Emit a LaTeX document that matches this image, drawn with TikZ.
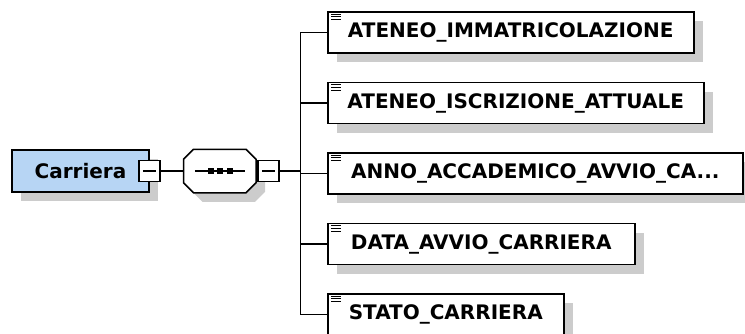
\documentclass[tikz,border=0pt]{standalone}
\usepackage{fontspec}
\setmainfont{DejaVu Sans}
\usetikzlibrary{positioning,shadows}
\definecolor{rootblue}{RGB}{183,213,244}

\begin{document}
\begin{tikzpicture}[
    x=1pt, y=-1pt,
    line width=1.5pt,
    boxshadow/.style={
        drop shadow={shadow xshift=9pt, shadow yshift=-9pt, fill=black!20, opacity=1}
    },
    rootbox/.style={
        rectangle, draw, fill=rootblue, minimum width=137pt, minimum height=42pt,
        font=\fontsize{20}{22}\selectfont\bfseries, boxshadow
    },
    elem/.style={
        rectangle, draw, fill=white, minimum height=41pt, anchor=west,
        font=\fontsize{20}{22}\selectfont\bfseries, boxshadow
    },
    toggle/.style={rectangle, draw, fill=white, minimum size=21pt, inner sep=0pt},
    seqbox/.style={rectangle, minimum width=71pt, minimum height=42pt, inner sep=0pt}
]
\useasboundingbox (0,0) rectangle (745,333);

% Nodes
\node[rootbox] (carriera) at (80.5,171) {Carriera};
\node[toggle] (m1) at ([xshift=-0.5pt]carriera.east) {};
\node[seqbox, right=23pt of m1] (seq) {};
\node[toggle, right=1pt of seq] (m2) {};

\node[elem, minimum width=366pt] (b1) at (327,32.5) {ATENEO\_IMMATRICOLAZIONE};
\node[elem, minimum width=376pt, below=28pt of b1.south west, anchor=north west] (b2) {ATENEO\_ISCRIZIONE\_ATTUALE};
\node[elem, minimum width=415pt, below=28pt of b2.south west, anchor=north west] (b3) {ANNO\_ACCADEMICO\_AVVIO\_CA...};
\node[elem, minimum width=307pt, below=28pt of b3.south west, anchor=north west] (b4) {DATA\_AVVIO\_CARRIERA};
\node[elem, minimum width=236pt, below=28pt of b4.south west, anchor=north west] (b5) {STATO\_CARRIERA};

% Octagon round the sequence node
\path[draw, fill=white, boxshadow]
    ([xshift=10pt]seq.north west) -- ([xshift=-10pt]seq.north east)
    -- ([yshift=-10pt]seq.north east) -- ([yshift=10pt]seq.south east)
    -- ([xshift=-10pt]seq.south east) -- ([xshift=10pt]seq.south west)
    -- ([yshift=10pt]seq.south west) -- ([yshift=-10pt]seq.north west) -- cycle;
\node[toggle] at (m2) {};

% Toggle signs and sequence symbol
\foreach \m in {m1,m2}
    \draw[line width=1.2pt] ([xshift=-6.5pt]\m.center) -- ([xshift=6.5pt]\m.center);
\draw[line width=1.2pt] ([xshift=-25pt]seq.center) -- ([xshift=25pt]seq.center);
\foreach \dx in {-9,0,10}
    \fill ([xshift=\dx pt]seq.center) +(-3,-3) rectangle +(3,3);

% Element icons
\foreach \b in {b1,b2,b3,b4,b5}
    \foreach \dy in {3,5.7,8.4}
        \draw[line width=1pt] ([shift={(4,\dy)}]\b.north west) -- ++(10,0);

% Connectors
\draw (m1) -- (seq.west);
\draw (m2.east) -- ++(21,0) coordinate (fork);
\foreach \b in {b1,b2,b3,b4,b5}
    \draw (fork) |- (\b.west);

\end{tikzpicture}
\end{document}
